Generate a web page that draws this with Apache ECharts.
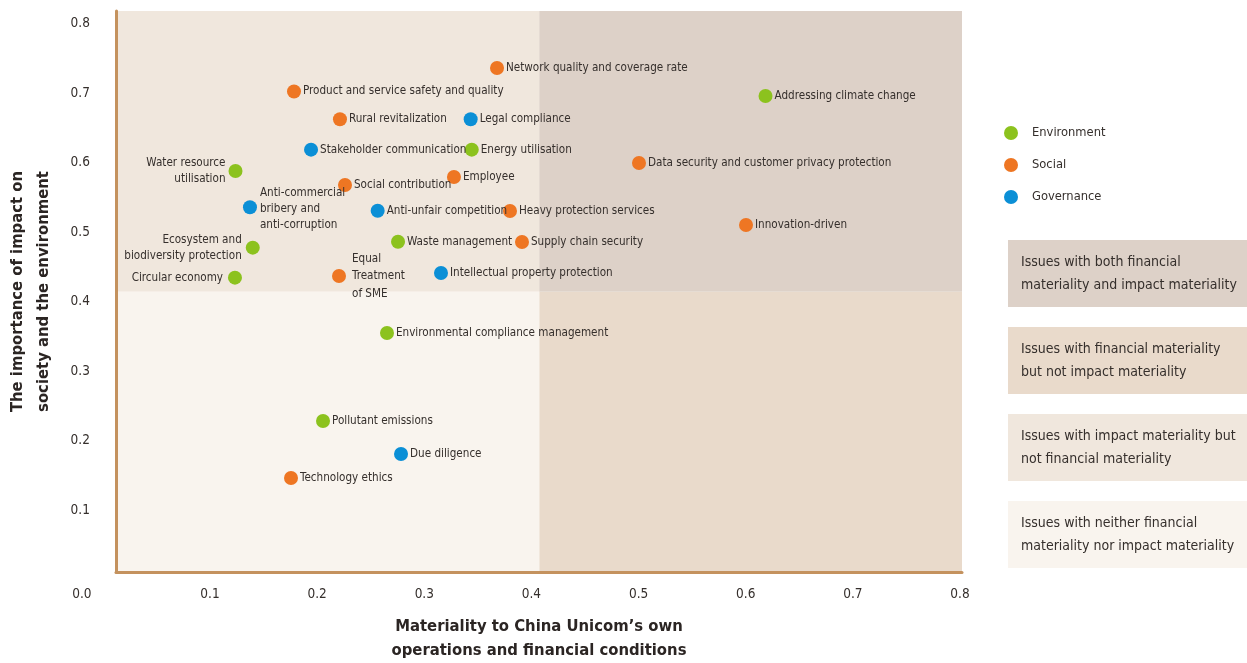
<!DOCTYPE html>
<html><head><meta charset="utf-8">
<script src="https://cdn.jsdelivr.net/npm/echarts@6/dist/echarts.min.js"></script>
<style>html,body{margin:0;padding:0;background:#fff;}#c{width:1247px;height:663px;}</style>
</head><body><div id="c"></div>
<script>
// ---------------- data ----------------
const categories = ['Environment', 'Social', 'Governance'];

const envNames = ['Addressing climate change', 'Energy utilisation', 'Water resource\nutilisation', 'Waste management',
  'Ecosystem and\nbiodiversity protection', 'Circular economy', 'Environmental compliance management', 'Pollutant emissions'];
const envX = [0.6185, 0.3443, 0.1238, 0.2755, 0.1399, 0.1233, 0.2652, 0.2055];
const envY = [0.6962, 0.6189, 0.5882, 0.4864, 0.4778, 0.4346, 0.3549, 0.2282];

const socNames = ['Network quality and coverage rate', 'Product and service safety and quality', 'Rural revitalization',
  'Data security and customer privacy protection', 'Employee', 'Social contribution', 'Heavy protection services',
  'Innovation-driven', 'Supply chain security', 'Equal\nTreatment\nof SME', 'Technology ethics'];
const socX = [0.3679, 0.1784, 0.2213, 0.5004, 0.3277, 0.2260, 0.3800, 0.6003, 0.3912, 0.2204, 0.1756];
const socY = [0.7365, 0.7027, 0.6626, 0.5997, 0.5796, 0.5680, 0.5306, 0.5104, 0.4860, 0.4370, 0.1462];

const govNames = ['Legal compliance', 'Stakeholder communication', 'Anti-commercial\nbribery and\nanti-corruption',
  'Anti-unfair competition', 'Intellectual property protection', 'Due diligence'];
const govX = [0.3433, 0.1943, 0.1373, 0.2565, 0.3156, 0.2783];
const govY = [0.6626, 0.6189, 0.5359, 0.5310, 0.4413, 0.1807];

const tickValues = [0, 0.1, 0.2, 0.3, 0.4, 0.5, 0.6, 0.7, 0.8];
const thresholdX = 0.4073;
const thresholdY = 0.4143;

const quadrantTexts = [
  'Issues with both financial\nmateriality and impact materiality',
  'Issues with financial materiality\nbut not impact materiality',
  'Issues with impact materiality but\nnot financial materiality',
  'Issues with neither financial\nmateriality nor impact materiality'
];
const xTitle = 'Materiality to China Unicom\u2019s own\noperations and financial conditions';
const yTitle = 'The importance of impact on\nsociety and the environment';

// ---------------- styles / layout ----------------
const FONT = "'Liberation Sans Narrow', 'Arial Narrow', 'DejaVu Sans Condensed', sans-serif";
const TXT = '#352f2c';
const colors = ['#8CC21E', '#EE7623', '#0B8FD6'];
const quadColors = { both: '#DDD1C8', fin: '#E9DACB', imp: '#F0E7DD', none: '#F9F4EE' };
const FRAME = '#C4925E';

// label scale anchors (pixels)
const L0 = 102.86, PX = 1071.4, Y0 = 579.5, PY = 694.5;
const frame = { left: 116, right: 962, top: 11, bottom: 572 };
const xMin = (frame.left - L0) / PX, xMax = (frame.right - L0) / PX;
const yMin = (Y0 - frame.bottom) / PY, yMax = (Y0 - frame.top) / PY;

const labelOverrides = {
  'Water resource\nutilisation': { position: 'left', distance: 3, lineHeight: 16 },
  'Ecosystem and\nbiodiversity protection': { position: 'left', distance: 4, lineHeight: 16 },
  'Circular economy': { position: 'left', distance: 5 },
  'Anti-commercial\nbribery and\nanti-corruption': { distance: 3, lineHeight: 16, offset: [0, 2] },
  'Equal\nTreatment\nof SME': { distance: 6, lineHeight: 17.5 }
};

function build(names, xs, ys) {
  return names.map((n, i) => {
    const item = { name: n, value: [xs[i], ys[i]] };
    if (labelOverrides[n]) item.label = labelOverrides[n];
    return item;
  });
}

const seriesData = [build(envNames, envX, envY), build(socNames, socX, socY), build(govNames, govX, govY)];

const series = categories.map((c, k) => ({
  name: c,
  type: 'scatter',
  xAxisIndex: 1, yAxisIndex: 1,
  symbol: 'circle',
  symbolSize: 14,
  itemStyle: { color: colors[k], opacity: 1 },
  label: {
    show: true, position: 'right', distance: 2,
    formatter: p => p.name,
    fontFamily: FONT, fontSize: 11.6, color: TXT, lineHeight: 16
  },
  emphasis: { disabled: true },
  data: seriesData[k],
  z: 3
}));

series.push({
  name: 'quadrants', type: 'scatter', xAxisIndex: 1, yAxisIndex: 1, data: [], silent: true,
  markArea: {
    silent: true, label: { show: false },
    data: [
      [{ xAxis: xMin, yAxis: thresholdY, itemStyle: { color: quadColors.imp } }, { xAxis: thresholdX, yAxis: yMax }],
      [{ xAxis: thresholdX, yAxis: thresholdY, itemStyle: { color: quadColors.both } }, { xAxis: xMax, yAxis: yMax }],
      [{ xAxis: thresholdX, yAxis: yMin, itemStyle: { color: quadColors.fin } }, { xAxis: xMax, yAxis: thresholdY }],
      [{ xAxis: xMin, yAxis: yMin, itemStyle: { color: quadColors.none } }, { xAxis: thresholdX, yAxis: thresholdY }]
    ]
  },
  z: 1
});

const graphics = [];
quadrantTexts.forEach((t, i) => {
  const top = 240 + i * 87;
  const col = [quadColors.both, quadColors.fin, quadColors.imp, quadColors.none][i];
  graphics.push({ type: 'rect', left: 1008, top: top, shape: { width: 239, height: 67 }, style: { fill: col }, silent: true });
  graphics.push({ type: 'text', left: 1021, top: top + 11, silent: true,
    style: { text: t, font: '14px ' + FONT, fill: TXT, lineHeight: 23 } });
});

const labelAxisCommon = {
  type: 'value', min: 0, max: 0.8, interval: 0.1,
  axisLine: { show: false }, axisTick: { show: false }, splitLine: { show: false }
};

const option = {
  animation: false,
  backgroundColor: '#ffffff',
  grid: [
    { left: L0, top: Y0 - 0.8 * PY, width: 0.8 * PX, height: 0.8 * PY, outerBoundsMode: 'none', containLabel: false },
    { left: frame.left, top: frame.top, width: frame.right - frame.left, height: frame.bottom - frame.top, outerBoundsMode: 'none', containLabel: false }
  ],
  xAxis: [
    Object.assign({}, labelAxisCommon, {
      gridIndex: 0,
      axisLabel: {
        margin: 8, fontFamily: FONT, fontSize: 13.5, color: TXT,
        formatter: v => (Math.abs(v) < 1e-9 ? '{z|0.0}' : v.toFixed(1)),
        rich: { z: { padding: [0, 42, 0, 0], fontFamily: FONT, fontSize: 13.5, color: TXT } }
      }
    }),
    {
      type: 'value', gridIndex: 1, min: xMin, max: xMax,
      axisLine: { show: true, lineStyle: { color: FRAME, width: 3 } },
      axisTick: { show: false }, splitLine: { show: false }, axisLabel: { show: false },
      name: xTitle, nameLocation: 'middle', nameGap: 43,
      nameTextStyle: { fontFamily: FONT, fontSize: 16.5, fontWeight: 'bold', color: '#2b2523', lineHeight: 24 },
      z: 10
    }
  ],
  yAxis: [
    Object.assign({}, labelAxisCommon, {
      gridIndex: 0,
      axisLabel: {
        margin: 13, fontFamily: FONT, fontSize: 13.5, color: TXT,
        formatter: v => (Math.abs(v) < 1e-9 ? '' : v.toFixed(1))
      }
    }),
    {
      type: 'value', gridIndex: 1, min: yMin, max: yMax,
      axisLine: { show: true, lineStyle: { color: FRAME, width: 3 } },
      axisTick: { show: false }, splitLine: { show: false }, axisLabel: { show: false },
      name: yTitle, nameLocation: 'middle', nameGap: 59,
      nameTextStyle: { fontFamily: FONT, fontSize: 16.5, fontWeight: 'bold', color: '#2b2523', lineHeight: 26 },
      z: 10
    }
  ],
  legend: {
    data: categories, orient: 'vertical', left: 999, top: 121,
    itemWidth: 32, itemHeight: 14, itemGap: 18, icon: 'circle',
    selectedMode: false,
    textStyle: { fontFamily: FONT, fontSize: 12.8, color: TXT }
  },
  graphic: graphics,
  series: series
};

const chart = echarts.init(document.getElementById('c'), null, { renderer: 'canvas' });
chart.setOption(option);
</script>
</body></html>
